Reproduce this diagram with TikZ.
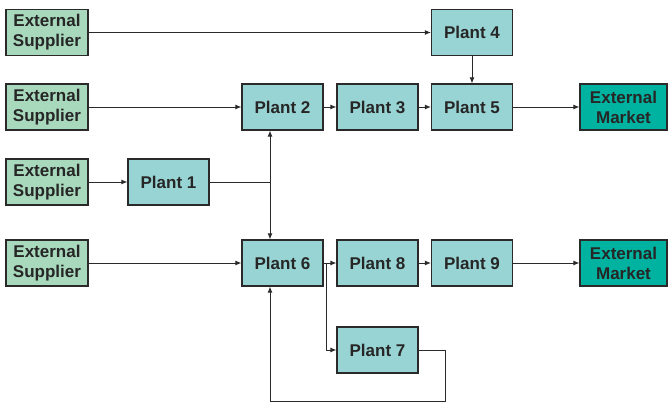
\documentclass[tikz,border=0pt]{standalone}
\usepackage{fontspec}
\setmainfont{Liberation Sans}
\usetikzlibrary{arrows.meta}
\definecolor{supfill}{HTML}{A8D9BC}
\definecolor{plantfill}{HTML}{99D4D4}
\definecolor{mktfill}{HTML}{00B3A1}
\definecolor{txt}{HTML}{262626}
\definecolor{edge}{HTML}{2A2A2A}
\tikzset{
  box/.style={draw=edge, line width=1.2pt, minimum width=81pt, minimum height=46pt,
    inner sep=0pt, align=center, text=txt,
    font=\fontsize{17}{20}\selectfont\bfseries},
  supbox/.style={box, fill=supfill, minimum width=82pt},
  plantbox/.style={box, fill=plantfill},
  mktbox/.style={box, fill=mktfill, minimum width=87pt},
  conn/.style={draw=edge, line width=0.9pt},
  arr/.style={conn, -{Latex[length=6pt,width=5pt]}}
}
\begin{document}
\begin{tikzpicture}[x=1pt,y=-1pt]
\useasboundingbox (0,0) rectangle (670,403);
% suppliers
\node[supbox] (s1) at (47,32.5) {External\\Supplier};
\node[supbox] (s2) at (47,107) {External\\Supplier};
\node[supbox] (s3) at (47,182) {External\\Supplier};
\node[supbox] (s4) at (47,263) {External\\Supplier};
% plants
\node[plantbox] (p1) at (168.5,182) {Plant 1};
\node[plantbox] (p2) at (282.5,107) {Plant 2};
\node[plantbox] (p3) at (377.5,107) {Plant 3};
\node[plantbox] (p4) at (472,32.5) {Plant 4};
\node[plantbox] (p5) at (472,107) {Plant 5};
\node[plantbox] (p6) at (282.5,263) {Plant 6};
\node[plantbox] (p7) at (377.5,350) {Plant 7};
\node[plantbox] (p8) at (377.5,263) {Plant 8};
\node[plantbox] (p9) at (472,263) {Plant 9};
% markets
\node[mktbox] (m1) at (623.5,107) {External\\Market};
\node[mktbox] (m2) at (623.5,263) {External\\Market};
% helper coordinates
\coordinate (j) at (270,182);
\coordinate (d) at (326,263);
\coordinate (r) at (445,350);
\coordinate (b) at (445,401);
\coordinate (bl) at (270,401);
% connectors
\draw[arr] (s1) -- (p4);
\draw[arr] (p4) -- (p5);
\draw[arr] (s2) -- (p2);
\draw[arr] (p2) -- (p3);
\draw[arr] (p3) -- (p5);
\draw[arr] (p5) -- (m1);
\draw[arr] (s3) -- (p1);
\draw[conn] (p1) -- (j);
\draw[arr] (j) -- (j |- p2.south);
\draw[arr] (j) -- (j |- p6.north);
\draw[arr] (s4) -- (p6);
\draw[arr] (p6) -- (p8);
\draw[arr] (p8) -- (p9);
\draw[arr] (p9) -- (m2);
\draw[arr] (d) |- (p7.west);
\draw[arr] (p7.east) -- (r) -- (b) -- (bl) -- (bl |- p6.south);
\end{tikzpicture}
\end{document}
